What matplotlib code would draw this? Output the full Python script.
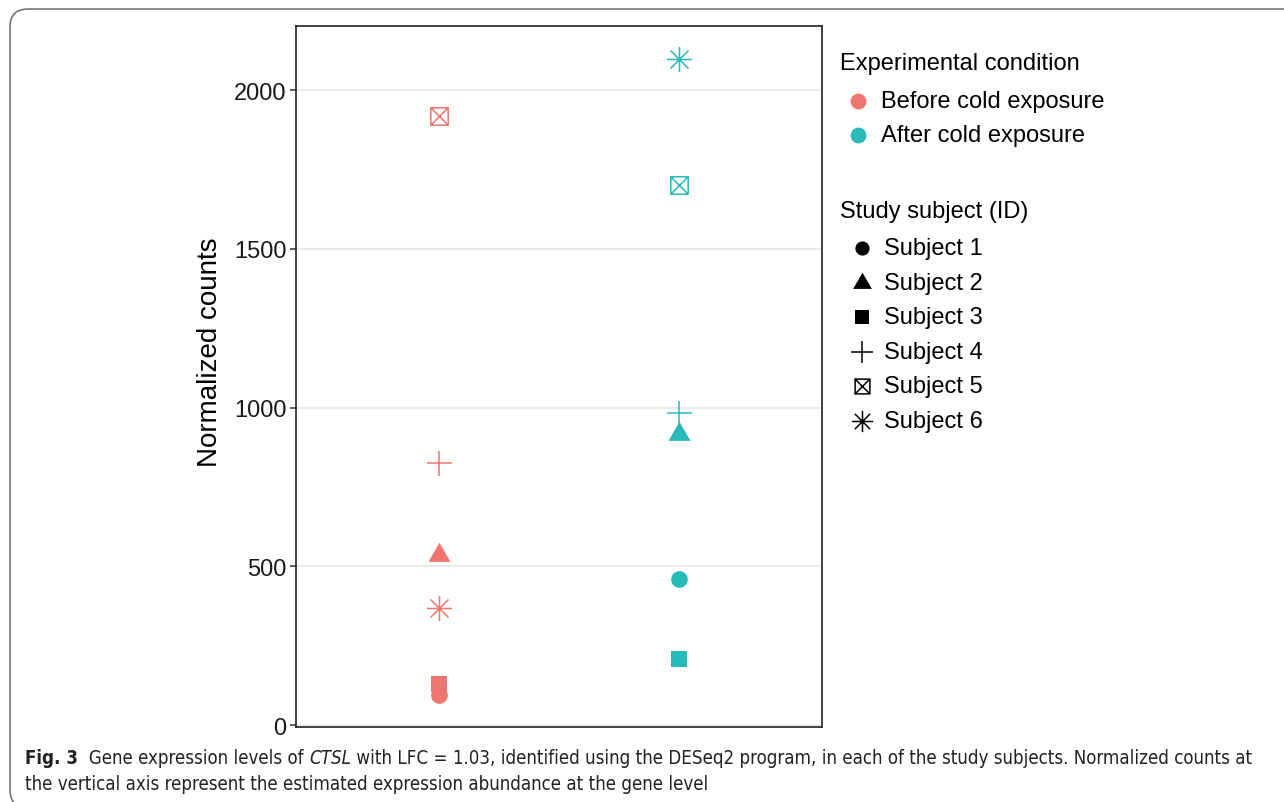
import matplotlib
matplotlib.use("Agg")
import matplotlib.pyplot as plt
import numpy as np
from matplotlib.path import Path
from matplotlib.lines import Line2D
from matplotlib.patches import FancyBboxPatch
from matplotlib.transforms import IdentityTransform
from matplotlib import font_manager

# data
conditions = ["Before cold exposure", "After cold exposure"]
subjects = ["Subject 1", "Subject 2", "Subject 3", "Subject 4", "Subject 5", "Subject 6"]
before_counts = [94, 535, 129, 825, 1918, 368]
after_counts = [460, 916, 208, 984, 1701, 2098]
y_ticks = [0, 500, 1000, 1500, 2000]

cond_colors = ["#EF7570", "#28B9B9"]

plt.rcParams["font.family"] = ["Liberation Sans", "DejaVu Sans"]

# ggplot-like shapes 16, 17, 15, 3, 7, 8
tri = Path([(0, 1), (-0.866, -0.5), (0.866, -0.5), (0, 1)],
           [Path.MOVETO, Path.LINETO, Path.LINETO, Path.CLOSEPOLY])
box_x = Path([(-1, -1), (1, -1), (1, 1), (-1, 1), (-1, -1), (-1, -1), (1, 1), (-1, 1), (1, -1)],
             [Path.MOVETO, Path.LINETO, Path.LINETO, Path.LINETO, Path.CLOSEPOLY,
              Path.MOVETO, Path.LINETO, Path.MOVETO, Path.LINETO])
d = 0.72
star = Path([(-1, 0), (1, 0), (0, -1), (0, 1), (-d, -d), (d, d), (-d, d), (d, -d)],
            [Path.MOVETO, Path.LINETO] * 4)

shape_styles = [
    dict(marker="o", ms=12, filled=True),
    dict(marker=tri, ms=18.3, filled=True),
    dict(marker="s", ms=12, filled=True),
    dict(marker="+", ms=18, filled=False),
    dict(marker=box_x, ms=12.5, filled=False),
    dict(marker=star, ms=18, filled=False),
]


def marker_kw(style, color, scale=1.0):
    if style["filled"]:
        return dict(marker=style["marker"], markersize=style["ms"] * scale,
                    markerfacecolor=color, markeredgecolor=color, markeredgewidth=0,
                    linestyle="none")
    return dict(marker=style["marker"], markersize=style["ms"] * scale,
                markerfacecolor="none", markeredgecolor=color, markeredgewidth=1.1,
                linestyle="none")


W, H = 1284, 803
fig = plt.figure(figsize=(W / 100, H / 100), dpi=100)
fig.patch.set_facecolor("white")

# outer rounded frame of the journal figure
frame = FancyBboxPatch((10, -6), 1400, H - 10 + 6, boxstyle="round,pad=0,rounding_size=18",
                       transform=IdentityTransform(), facecolor="none",
                       edgecolor="#6b6b6b", linewidth=1.1)
fig.add_artist(frame)

ax = fig.add_axes([296 / W, 1 - 728 / H, (822 - 296) / W, (728 - 27) / H])

for ci, counts in enumerate([before_counts, after_counts]):
    for si, val in enumerate(counts):
        ax.plot([ci + 1], [val], zorder=3, **marker_kw(shape_styles[si], cond_colors[ci]))

ax.set_xlim(0.4, 2.6)
ax.set_ylim(-6, 2202)
ax.set_xticks([])
ax.set_yticks(y_ticks)
ax.set_yticklabels([str(t) for t in y_ticks], fontsize=17, color="#1a1a1a")
ax.tick_params(axis="y", length=4, width=1.1, color="#333333", pad=3)
ax.yaxis.grid(True, color="#EBEBEB", linewidth=1.6)
ax.set_axisbelow(True)
for sp in ax.spines.values():
    sp.set_color("#222222")
    sp.set_linewidth(1.2)
ax.set_ylabel("Normalized counts", fontsize=20)
ax.yaxis.set_label_coords((223 - 296) / 526, (728 - 352) / 701)

# legends (ggplot style, drawn by hand)
def fy(ypx):
    return 1 - ypx / H

fig.text(840 / W, fy(64), "Experimental condition", fontsize=17, va="center", ha="left")
for i, (lab, col) in enumerate(zip(conditions, cond_colors)):
    y = fy(102 + 34 * i)
    fig.add_artist(Line2D([858 / W], [y], transform=fig.transFigure,
                          **marker_kw(shape_styles[0], col, 0.95)))
    fig.text(881 / W, y, lab, fontsize=17, va="center", ha="left")

fig.text(840 / W, fy(212), "Study subject (ID)", fontsize=17, va="center", ha="left")
for i, lab in enumerate(subjects):
    y = fy(249 + 34.6 * i)
    fig.add_artist(Line2D([862 / W], [y], transform=fig.transFigure,
                          **marker_kw(shape_styles[i], "black", 0.85)))
    fig.text(884 / W, y, lab, fontsize=17, va="center", ha="left")

# caption
names = {f.name for f in font_manager.fontManager.ttflist}
if "Liberation Sans Narrow" in names:
    cap_font = dict(family="Liberation Sans Narrow")
else:
    cap_font = dict(family="DejaVu Sans", stretch="condensed")

line1 = [("Fig. 3", "bold", "normal"),
         ("  Gene expression levels of ", "normal", "normal"),
         ("CTSL", "normal", "italic"),
         (" with LFC = 1.03, identified using the DESeq2 program, in each of the study "
          "subjects. Normalized counts at", "normal", "normal")]
line2 = "the vertical axis represent the estimated expression abundance at the gene level"

renderer = fig.canvas.get_renderer()


def draw_line(parts, size, ypx):
    x = 25
    texts = []
    for s, wt, st in parts:
        t = fig.text(x / W, fy(ypx), s, fontsize=size, fontweight=wt, fontstyle=st,
                     va="baseline", ha="left", color="#222222", **cap_font)
        x += t.get_window_extent(renderer).width
        texts.append(t)
    return x, texts


end, texts = draw_line(line1, 13, 764)
for t in texts:
    t.remove()
size = 13 * (1250 - 25) / (end - 25)
draw_line(line1, size, 764)
draw_line([(line2, "normal", "normal")], size, 790)

fig.savefig("out.png", dpi=100)
